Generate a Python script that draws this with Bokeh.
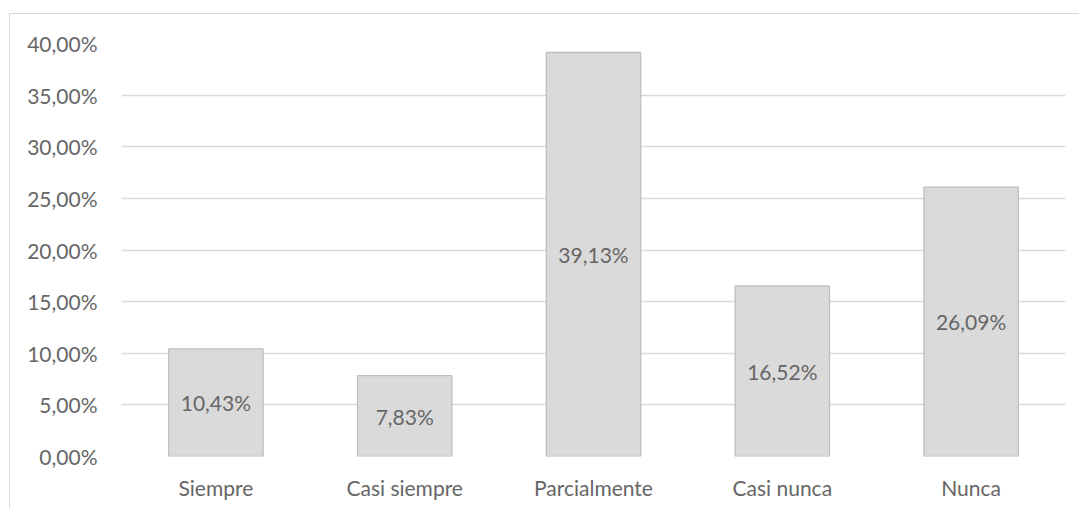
from bokeh.plotting import figure
from bokeh.models import ColumnDataSource, FixedTicker, Range1d, FactorRange
from bokeh.core.properties import value
from bokeh.embed import file_html
from bokeh.resources import INLINE

categories = ["Siempre", "Casi siempre", "Parcialmente", "Casi nunca", "Nunca"]
values = [10.43, 7.83, 39.13, 16.52, 26.09]
labels = ["10,43%", "7,83%", "39,13%", "16,52%", "26,09%"]
y_ticks = [0, 5, 10, 15, 20, 25, 30, 35, 40]
y_tick_labels = ["0,00%", "5,00%", "10,00%", "15,00%", "20,00%", "25,00%", "30,00%", "35,00%", "40,00%"]

FONT = "Lato"
TEXT = "#666666"

src = ColumnDataSource(dict(cat=categories, val=values,
                            mid=[v / 2 for v in values], lab=labels))

p = figure(x_range=FactorRange(*categories, range_padding=0),
           y_range=Range1d(0, 40),
           width=1070, height=495, output_backend="svg", toolbar_location=None,
           min_border_left=111, min_border_right=15, min_border_top=29, min_border_bottom=53)
p.margin = (13, 0, 0, 9)
p.styles = {"border-top": "1px solid #d9d9d9", "border-left": "1px solid #d9d9d9"}
p.outline_line_color = None
p.background_fill_color = "white"
p.border_fill_color = "white"

p.vbar(x="cat", top="val", width=0.5, source=src,
       fill_color="#dadada", line_color="#bfbfbf", line_width=1.3)

p.text(x="cat", y="mid", text="lab", source=src,
       text_align="center", text_baseline="middle",
       text_font=value(FONT), text_font_size="21px", text_color=TEXT)

p.yaxis.ticker = FixedTicker(ticks=y_ticks)
p.yaxis.major_label_overrides = {t: l for t, l in zip(y_ticks, y_tick_labels)}
for ax in (p.xaxis, p.yaxis):
    ax.axis_line_color = None
    ax.major_tick_line_color = None
    ax.minor_tick_line_color = None
    ax.major_label_text_font = FONT
    ax.major_label_text_font_size = "21px"
    ax.major_label_text_color = TEXT
p.yaxis.major_label_standoff = 18
p.xaxis.major_label_standoff = 12

p.xgrid.grid_line_color = None
p.ygrid.grid_line_color = "#d9d9d9"
p.ygrid.grid_line_width = 1.3

open("out.html", "w").write(file_html(p, INLINE))
